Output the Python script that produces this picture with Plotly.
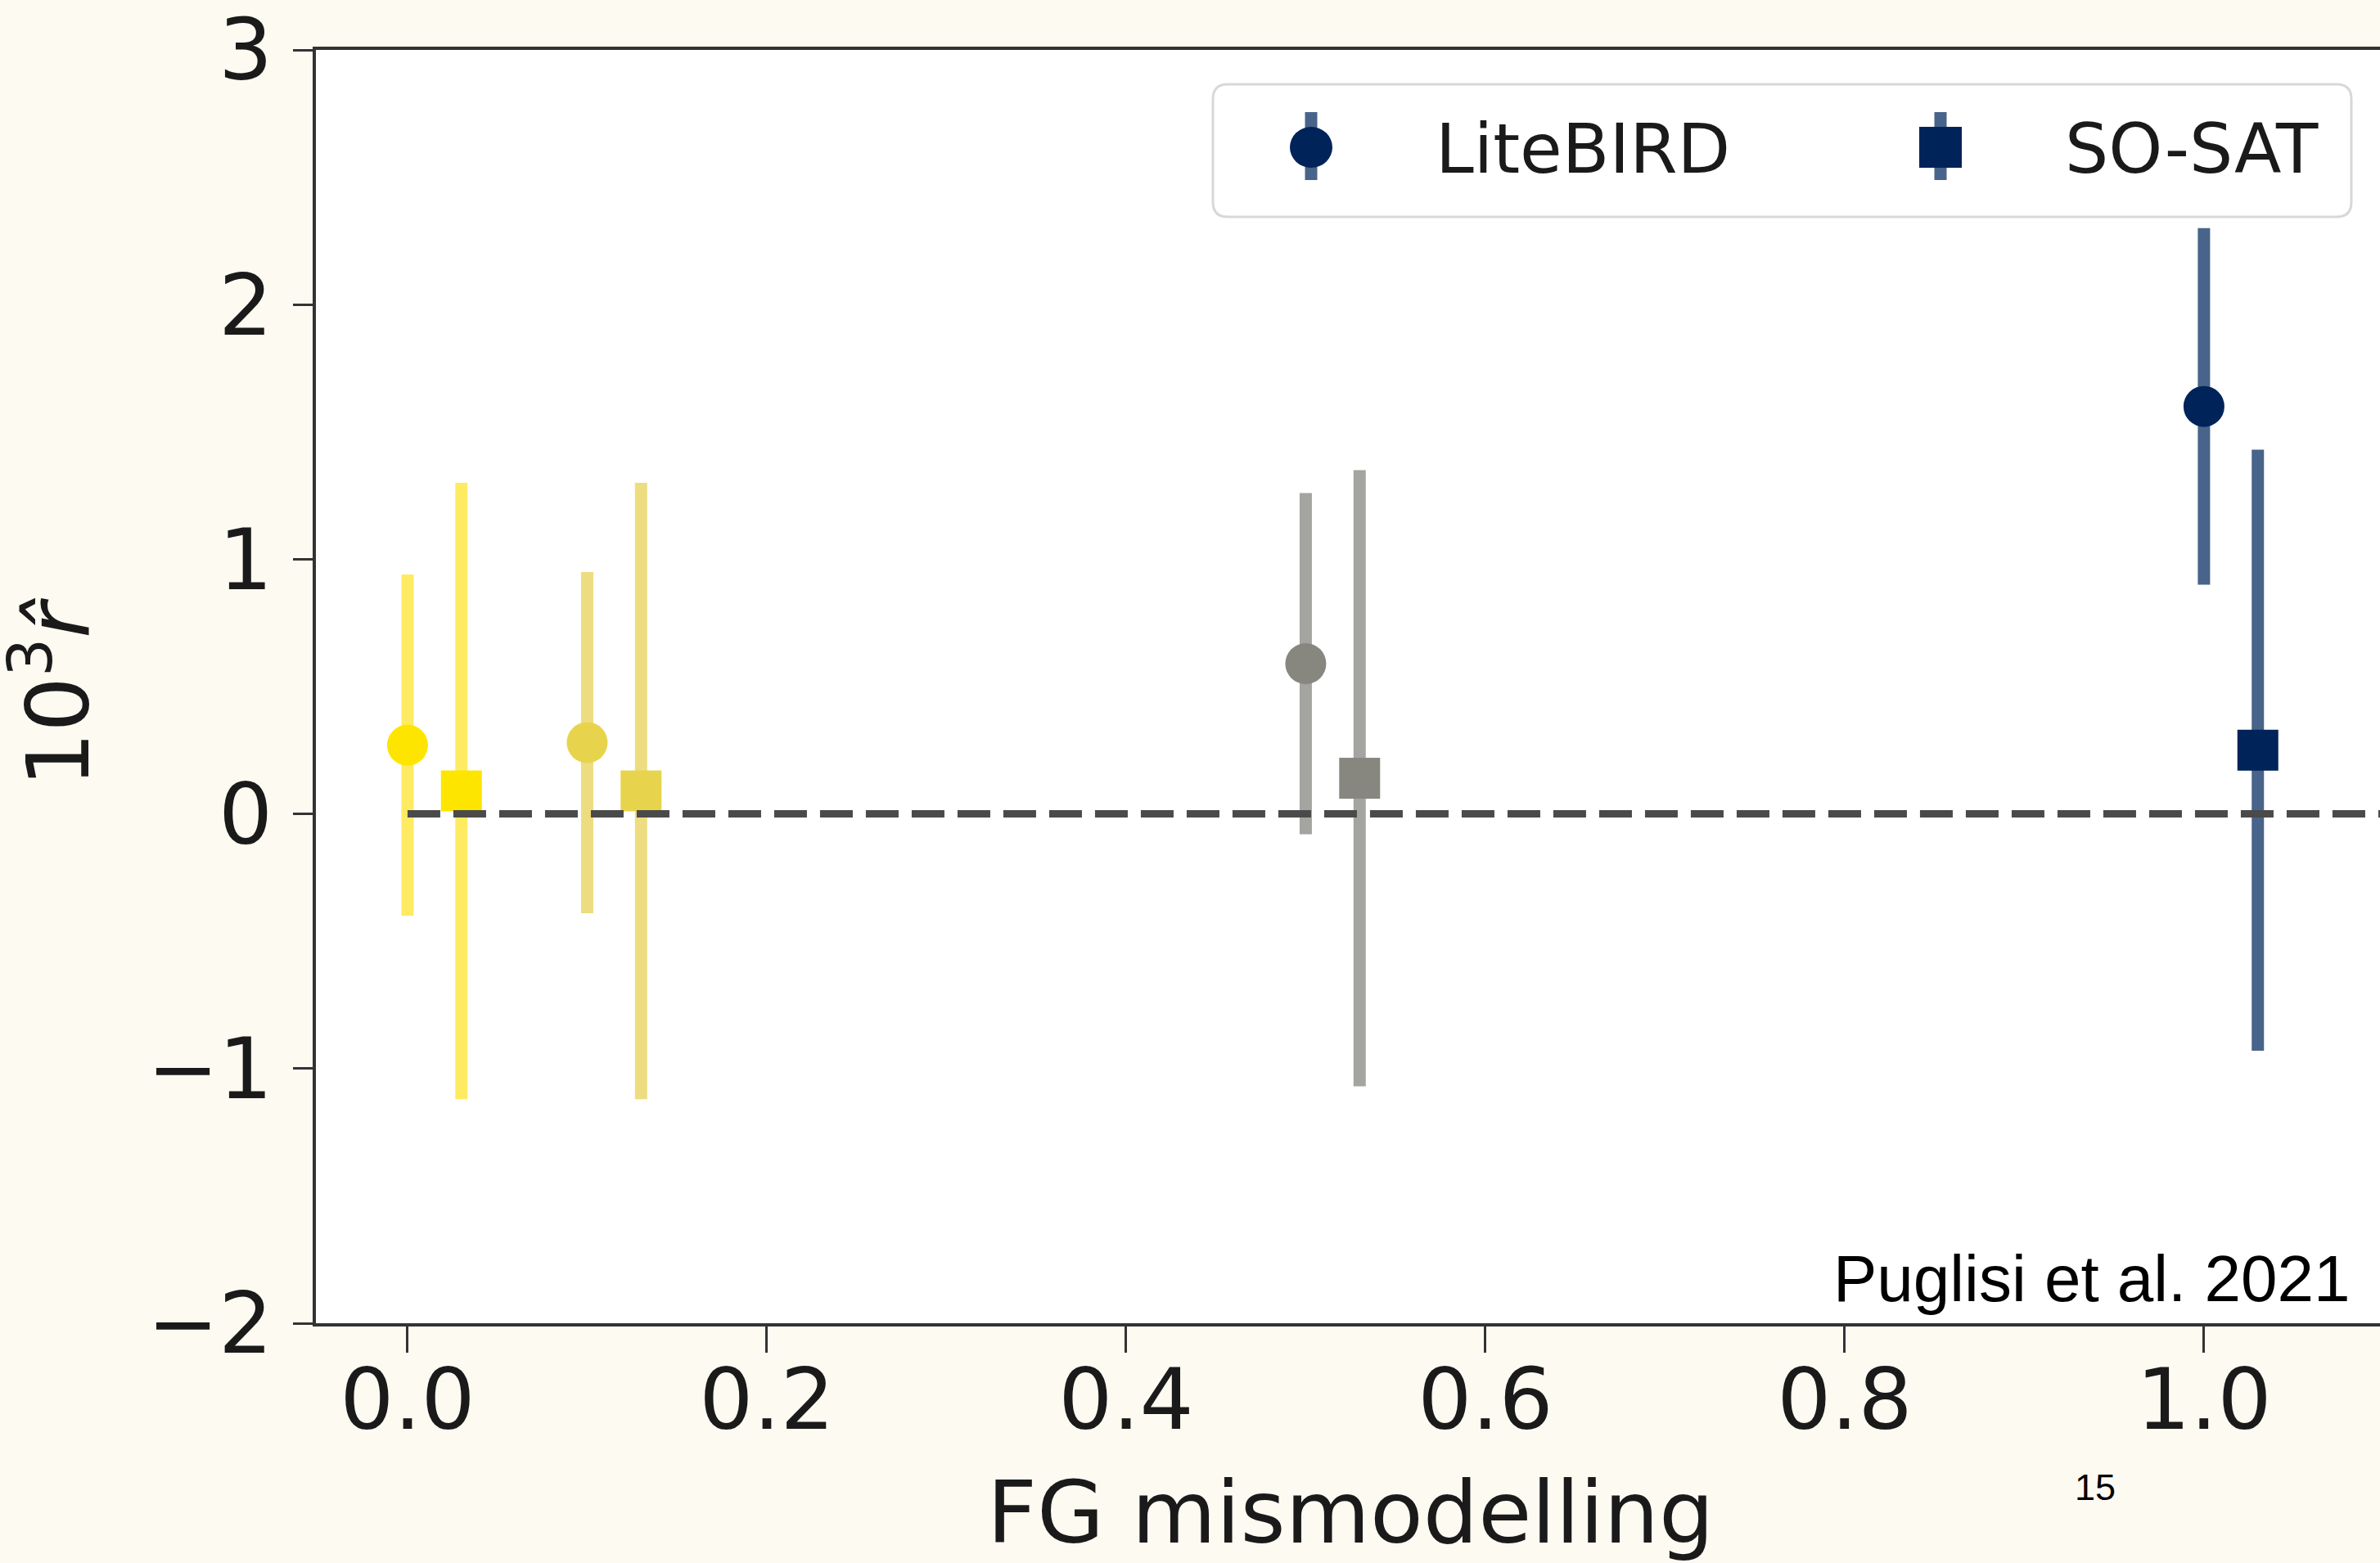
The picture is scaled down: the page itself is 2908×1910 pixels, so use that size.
import plotly.graph_objects as go

# ---- data ----
mismodelling = [0.0, 0.1, 0.5, 1.0]
sosat_x = [0.03, 0.13, 0.53, 1.03]
litebird_r = [0.27, 0.28, 0.59, 1.60]
litebird_err = [0.67, 0.67, 0.67, 0.70]
sosat_r = [0.09, 0.09, 0.14, 0.25]
sosat_err = [1.21, 1.21, 1.21, 1.18]
marker_colors = ["#FEE500", "#E8D44C", "#87867F", "#00235A"]
errbar_colors = ["#FFEB62", "#EDDD80", "#A4A4A0", "#48648A"]
zero_x = [0.0, 1.2]
zero_y = [0.0, 0.0]
x_ticks = [0.0, 0.2, 0.4, 0.6, 0.8, 1.0]
x_ticklabels = ["0.0", "0.2", "0.4", "0.6", "0.8", "1.0"]
y_ticks = [-2, -1, 0, 1, 2, 3]
series_names = ["LiteBIRD", "SO-SAT"]

W, H = 2908, 1910
PL, PR, PT, PB = 386, 2908, 61, 1617


def px(x):
    return (x - PL) / (PR - PL)


def py(y):
    return (PB - y) / (PB - PT)


fig = go.Figure()

for xs, ys, es, sym in [(mismodelling, litebird_r, litebird_err, "circle"),
                        (sosat_x, sosat_r, sosat_err, "square")]:
    for i in range(len(xs)):
        fig.add_trace(go.Scatter(
            x=[xs[i]], y=[ys[i]], mode="markers",
            marker=dict(symbol=sym, size=50, color=marker_colors[i], line=dict(width=0)),
            error_y=dict(type="data", array=[es[i]], visible=True,
                         thickness=15, width=0, color=errbar_colors[i]),
            showlegend=False, hoverinfo="skip",
        ))

fig.add_trace(go.Scatter(
    x=zero_x, y=zero_y, mode="lines",
    line=dict(color="#4A4A4A", width=9, dash="40px,16px"),
    showlegend=False, hoverinfo="skip",
))

tickfont = dict(family="DejaVu Sans", size=104, color="#1a1a1a")
fig.update_layout(
    width=W, height=H,
    margin=dict(l=PL, r=W - PR, t=PT, b=H - PB, pad=0),
    paper_bgcolor="#FDFAF2",
    plot_bgcolor="#FFFFFF",
    showlegend=False,
    xaxis=dict(
        range=[-0.051, 1.098], tickvals=x_ticks, ticktext=x_ticklabels,
        showgrid=False, zeroline=False,
        showline=True, linecolor="#333333", linewidth=4, mirror=True,
        ticks="outside", ticklen=32, tickwidth=3, tickcolor="#333333",
        tickfont=tickfont, ticklabelstandoff=-32,
    ),
    yaxis=dict(
        range=[-2, 3], tickvals=y_ticks,
        showgrid=False, zeroline=False,
        showline=True, linecolor="#333333", linewidth=4, mirror=False,
        ticks="outside", ticklen=24, tickwidth=3, tickcolor="#333333",
        tickfont=tickfont, ticklabelstandoff=4,
    ),
)

# ---- axis titles ----
fig.add_annotation(text="FG mismodelling", xref="paper", yref="paper",
                   x=px(1650), y=py(1848), xanchor="center", yanchor="middle",
                   showarrow=False, font=dict(family="DejaVu Sans", size=106, color="#1a1a1a"))
fig.add_annotation(text="10<sup>3</sup><i>r\u0302</i>", xref="paper", yref="paper",
                   x=px(64), y=py(846), xanchor="center", yanchor="middle", textangle=-90,
                   showarrow=False, font=dict(family="DejaVu Sans", size=106, color="#1a1a1a"))

# ---- legend (drawn as a matplotlib-style box) ----
bx0, by0, bx1, by1, rad = 1482, 103, 2873, 265, 18
rx, ry = rad / (PR - PL), rad / (PB - PT)
X0, X1, Y0, Y1 = px(bx0), px(bx1), py(by1), py(by0)
path = (f"M {X0+rx},{Y1} L {X1-rx},{Y1} Q {X1},{Y1} {X1},{Y1-ry} "
        f"L {X1},{Y0+ry} Q {X1},{Y0} {X1-rx},{Y0} L {X0+rx},{Y0} "
        f"Q {X0},{Y0} {X0},{Y0+ry} L {X0},{Y1-ry} Q {X0},{Y1} {X0+rx},{Y1} Z")
fig.add_shape(type="path", path=path, xref="paper", yref="paper",
              fillcolor="rgba(255,255,255,0.85)", line=dict(color="#D8D8D8", width=3), layer="above")

legend_items = [(1602, "circle", series_names[0], 1752), (2371, "square", series_names[1], 2521)]
for cx, sym, name, tx in legend_items:
    fig.add_shape(type="line", xref="paper", yref="paper",
                  x0=px(cx), x1=px(cx), y0=py(137), y1=py(220),
                  line=dict(color="#48648A", width=15), layer="above")
    shape_type = "circle" if sym == "circle" else "rect"
    fig.add_shape(type=shape_type, xref="paper", yref="paper",
                  xsizemode="pixel", ysizemode="pixel",
                  xanchor=px(cx), yanchor=py(180),
                  x0=-26, x1=26, y0=-25, y1=25,
                  fillcolor="#00235A", line=dict(width=0), layer="above")
    fig.add_annotation(text=name, xref="paper", yref="paper",
                       x=px(tx), y=py(182), xanchor="left", yanchor="middle",
                       showarrow=False, font=dict(family="DejaVu Sans", size=84, color="#1a1a1a"))

# ---- extra texts ----
fig.add_annotation(text="Puglisi et al. 2021", xref="paper", yref="paper",
                   x=px(2874), y=py(1562), xanchor="right", yanchor="middle",
                   showarrow=False, font=dict(family="Liberation Sans", size=80, color="#000000"))
fig.add_annotation(text="15", xref="paper", yref="paper",
                   x=px(2560), y=py(1817), xanchor="center", yanchor="middle",
                   showarrow=False, font=dict(family="Liberation Sans", size=45, color="#000000"))

fig.write_html("out.html")
